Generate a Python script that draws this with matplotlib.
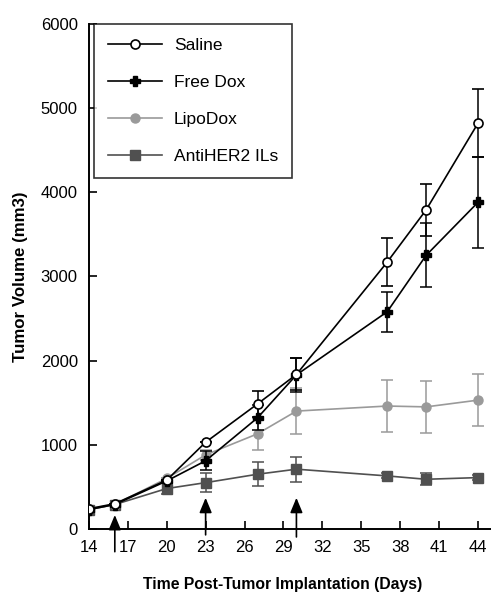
import matplotlib
matplotlib.use("Agg")
import matplotlib.pyplot as plt

plt.rcParams['font.family'] = ['Liberation Sans', 'DejaVu Sans']

days = [14, 16, 20, 23, 27, 30, 37, 40, 44]
saline = [240, 300, 580, 1030, 1485, 1835, 3170, 3790, 4820]
saline_err = [0, 0, 0, 0, 150, 190, 290, 310, 400]
free_dox = [230, 290, 570, 810, 1320, 1830, 2580, 3250, 3880]
free_dox_err = [0, 0, 0, 110, 150, 200, 235, 380, 540]
lipo_dox = [240, 290, 600, 880, 1130, 1400, 1460, 1450, 1530]
lipo_dox_err = [0, 0, 0, 60, 190, 270, 310, 310, 310]
anti_her2 = [230, 290, 480, 550, 650, 710, 630, 590, 610]
anti_her2_err = [0, 0, 60, 110, 140, 150, 30, 70, 30]
# dosing days, arrow tip / tail in y units
dose_days = [16, 23, 30]
arrow_tip = [166, 370, 370]
arrow_tail = [-270, -70, -95]
xticks = [14, 17, 20, 23, 26, 29, 32, 35, 38, 41, 44]
yticks = [0, 1000, 2000, 3000, 4000, 5000, 6000]

fig = plt.figure(figsize=(4.91, 5.95), dpi=100)
ax = fig.add_axes([0.181, 0.111, 0.819, 0.849])

common = dict(capsize=4, elinewidth=1.1, capthick=1.1, linewidth=1.2, markersize=6.5)
c_her2 = ax.errorbar(days, anti_her2, yerr=anti_her2_err, color='#505050', ecolor='#505050',
                     marker='s', label='AntiHER2 ILs', zorder=2, **common)
c_lipo = ax.errorbar(days, lipo_dox, yerr=lipo_dox_err, color='#9a9a9a', ecolor='#9a9a9a',
                     marker='o', label='LipoDox', zorder=3, **common)
c_free = ax.errorbar(days, free_dox, yerr=free_dox_err, color='black', ecolor='black',
                     marker='P', label='Free Dox', zorder=4, **common)
c_sal = ax.errorbar(days, saline, yerr=saline_err, color='black', ecolor='black',
                    marker='o', markerfacecolor='white', markeredgecolor='black',
                    markeredgewidth=1.2, label='Saline', zorder=5, **common)

for d, tip, tail in zip(dose_days, arrow_tip, arrow_tail):
    ax.annotate('', xy=(d, tip), xytext=(d, tail),
                arrowprops=dict(arrowstyle='-|>,head_length=0.6,head_width=0.25',
                                color='black', lw=1.2, mutation_scale=15,
                                shrinkA=0, shrinkB=0),
                annotation_clip=False)

ax.set_xlim(14, 45)
ax.set_ylim(0, 6000)
ax.set_xticks(xticks)
ax.set_yticks(yticks)
ax.tick_params(direction='in', length=6, width=1.2, labelsize=12, pad=8)
for s in ['top', 'right']:
    ax.spines[s].set_visible(False)
for s in ['left', 'bottom']:
    ax.spines[s].set_linewidth(1.4)

ax.set_xlabel('Time Post-Tumor Implantation (Days)', fontweight='bold', fontsize=11.3, labelpad=16)
ax.xaxis.label.set_x(0.483)
ax.set_ylabel('Tumor Volume (mm3)', fontweight='bold', fontsize=12.2, labelpad=9)

handles = [c_sal[0], c_free[0], c_lipo[0], c_her2[0]]
labels = ['Saline', 'Free Dox', 'LipoDox', 'AntiHER2 ILs']
leg = ax.legend(handles, labels,
                loc='upper left', bbox_to_anchor=(0.012, 1.0), borderaxespad=0,
                fontsize=12.5, frameon=True, fancybox=False, edgecolor='black',
                borderpad=0.82, labelspacing=1.25, handlelength=3.1, handletextpad=0.7)
leg.get_frame().set_linewidth(1.2)

fig.savefig('out.png', dpi=100)
